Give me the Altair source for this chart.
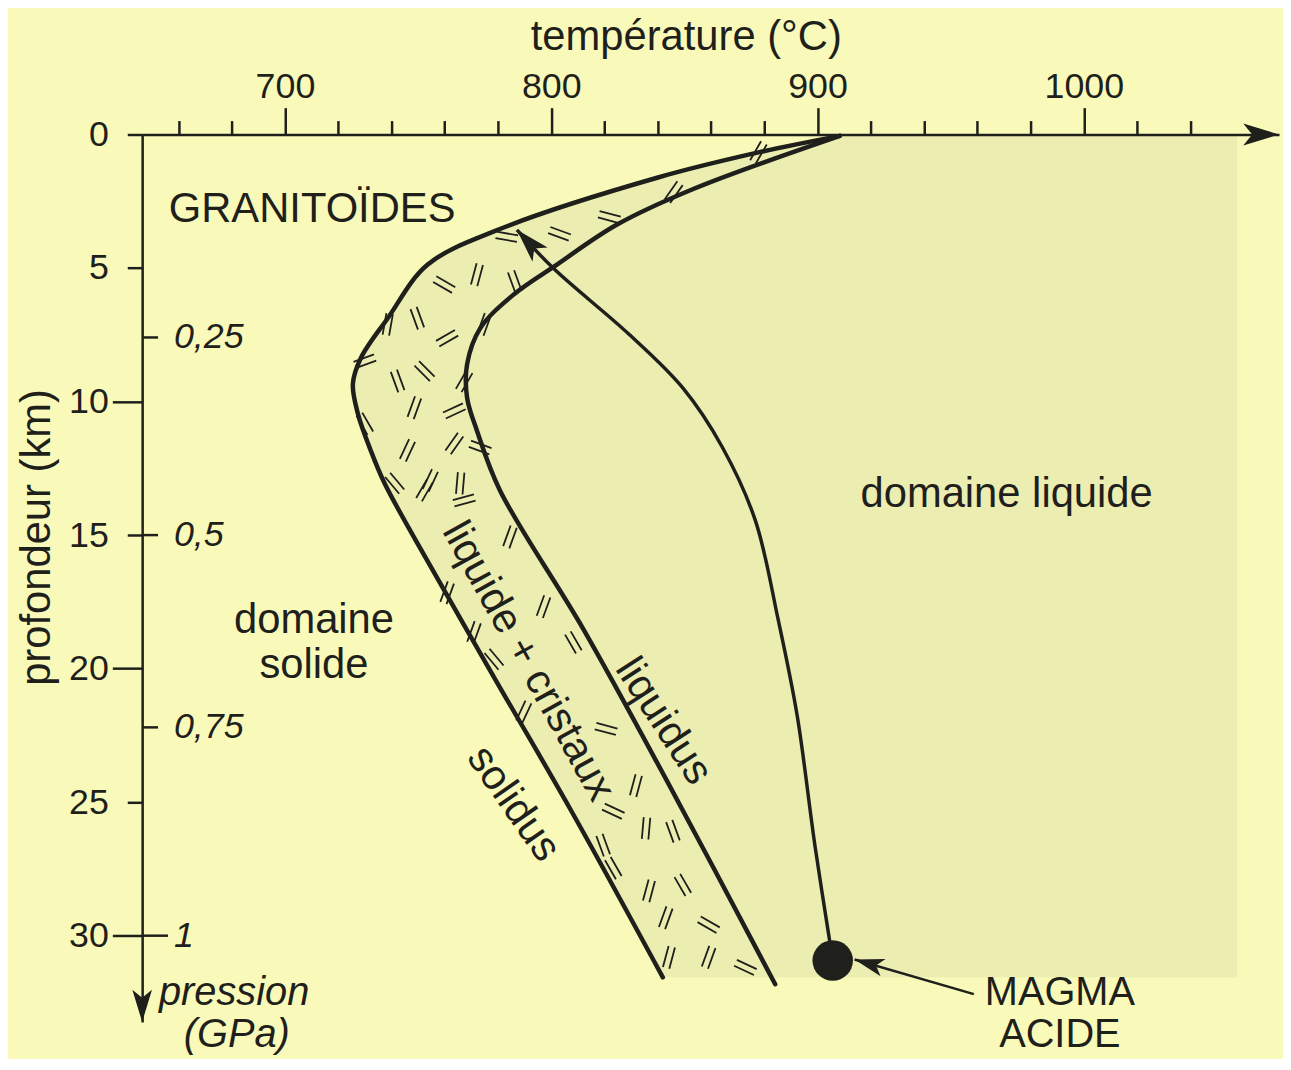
import altair as alt
import pandas as pd

FONT = "Liberation Sans"
INK = "#1f1f1c"
BG = "#f9fab9"
SHADE = "#ecedb1"

# ---- axis extents (temperature in °C, depth in km) ----
T_MIN, T_MAX = 646.37, 1073.3
D_MAX = 33.23
SHADE_RIGHT = 1057.6

x_ticks = [660, 680, 700, 720, 740, 760, 780, 800, 820, 840, 860, 880,
           900, 920, 940, 960, 980, 1000, 1020, 1040]
y_ticks = [0, 5, 10, 15, 20, 25, 30]

p_labels = ["0,25", "0,5", "0,75", "1"]
p_depth = [7.6, 15.0, 22.2, 30.0]

# ---- curves ----
solidus_T = [908.4, 877.8, 840.4, 780.7, 753.5, 738.6, 728.5, 725.5, 727.4,
             732.2, 737.4, 749.7, 778.9, 807.6, 841.9]
solidus_d = [0.05, 0.67, 1.60, 3.54, 4.88, 6.88, 8.37, 9.34, 10.46,
             11.83, 13.06, 15.30, 20.39, 25.34, 31.56]

liquidus_T = [908.4, 853.1, 824.4, 802.0, 785.9, 773.3, 768.4, 768.4, 772.1,
              780.7, 812.1, 843.0, 884.1]
liquidus_d = [0.05, 2.05, 3.39, 4.88, 5.99, 7.26, 8.60, 9.86, 11.09,
              13.32, 18.53, 24.12, 31.82]

magma_T = [905.7, 899.0, 892.3, 885.2, 876.6, 864.3, 849.4, 829.2, 800.9, 787.1]
magma_d = [30.93, 26.61, 21.73, 18.16, 14.44, 11.72, 9.49, 7.48, 5.02, 3.57]

dot_T, dot_d = [905.7], [30.93]
pointer_T = [958.7, 913.9]
pointer_d = [32.19, 30.89]

# ---- crystal hatch marks in the liquid + crystals band ----
hatch_T = [877.8, 846.0, 821.8, 803.1, 783.3, 759.8, 772.1, 786.3, 738.6, 749.7,
           760.9, 774.8, 730.0, 742.3, 752.4, 767.3, 748.6, 763.6, 730.0, 746.0,
           763.6, 773.3, 741.2, 754.6, 765.8, 752.4, 767.3, 784.5, 760.9, 771.0,
           778.5, 797.1, 808.3, 789.7, 820.6, 831.8, 823.3, 835.6, 845.7, 819.5,
           823.3, 836.7, 849.4, 843.0, 859.1, 844.2, 859.1, 872.9]
hatch_d = [0.67, 2.16, 3.09, 3.72, 3.83, 5.62, 5.25, 5.51, 7.11, 6.88,
           7.63, 7.11, 8.49, 9.23, 8.86, 9.23, 10.23, 10.35, 10.83, 11.83,
           11.57, 11.72, 13.06, 12.95, 13.06, 13.32, 13.70, 15.07, 17.16, 18.65,
           19.65, 17.68, 19.02, 21.62, 22.26, 24.38, 25.34, 25.98, 26.09, 26.61,
           27.47, 28.32, 28.10, 29.33, 29.59, 30.81, 30.81, 31.19]
hatch_a = [30, 35, 105, 110, 100, 120, 15, 340, 10, 340,
           60, 20, 70, 340, 315, 30, 20, 65, 330, 25,
           35, 110, 320, 25, 5, 30, 75, 20, 20, 20,
           320, 20, 330, 25, 105, 15, 115, 5, 340, 340,
           330, 15, 330, 20, 120, 15, 20, 115]

# ---- annotations ----
ann_text = ["GRANITOÏDES", "domaine liquide", "domaine", "solide"]
ann_T = [710.2, 971.0, 710.9, 710.9]
ann_d = [2.79, 13.45, 18.18, 19.85]

low_text = ["MAGMA", "ACIDE"]
low_T = [991.0, 991.0]
low_d = [32.15, 33.72]

rot_text = ["liquide + cristaux", "liquidus", "solidus"]
rot_T = [791.5, 842.3, 785.9]
rot_d = [19.72, 21.96, 25.05]
rot_a = [61, 57, 55]

pres_text = ["pression", "(GPa)"]
pres_T = [652.7, 662.0]
pres_d = [32.15, 33.72]

HATCH = "M-0.3,-1L-0.3,1M0.3,-1L0.3,1"
ARROW = "M0,0L0.55,1.8L0,1.35L-0.55,1.8Z"

W, H = 1144, 893
xs = alt.Scale(domain=[T_MIN, T_MAX], nice=False, zero=False)
ys = alt.Scale(domain=[0, D_MAX], nice=False, zero=False, reverse=True)

xaxis = alt.Axis(
    orient="top", values=x_ticks, format="d",
    labelExpr="datum.value % 100 === 0 ? datum.label : ''",
    tickSize={"condition": {"test": "datum.value % 100 === 0", "value": 27}, "value": 14},
    labelPadding=10, labelBaseline="alphabetic", labelFlush=False, labelOverlap=False,
    labelFont=FONT, labelFontSize=36, labelColor=INK,
    tickColor=INK, tickWidth=2.5, domainColor=INK, domainWidth=2.5, grid=False,
    title="température (°C)", titleFont=FONT, titleFontSize=42, titleFontWeight="normal",
    titleColor=INK, titleX=547, titleY=-86, titleBaseline="alphabetic", titleAlign="center",
    titleAngle=0, zindex=2,
)

yaxis = alt.Axis(
    orient="left", values=y_ticks, format="d",
    tickSize={"condition": {"test": "datum.value % 10 === 0 && datum.value > 0", "value": 30}, "value": 15},
    labelPadding={"condition": {"test": "datum.value % 10 === 0 && datum.value > 0", "value": 4}, "value": 19},
    labelFlush=False, labelOverlap=False,
    labelFont=FONT, labelFontSize=36, labelColor=INK,
    tickColor=INK, tickWidth=2.5, domainColor=INK, domainWidth=2.5, grid=False,
    title="profondeur (km)", titleFont=FONT, titleFontSize=42, titleFontWeight="normal",
    titleColor=INK, titleX=-93, titleY=405, titleAngle=270, titleBaseline="alphabetic",
    titleAlign="center", zindex=2,
)


def X(f="T"):
    return alt.X(f"{f}:Q", scale=xs, axis=xaxis)


def Y(f="d"):
    return alt.Y(f"{f}:Q", scale=ys, axis=yaxis)


shade_df = pd.DataFrame({"T": solidus_T, "d": solidus_d, "T2": [SHADE_RIGHT] * len(solidus_T)})
shade = alt.Chart(shade_df).mark_area(
    orient="horizontal", interpolate="catmull-rom", color=SHADE, opacity=1
).encode(x=X(), x2="T2:Q", y=Y())

hatch = alt.Chart(pd.DataFrame({"T": hatch_T, "d": hatch_d, "a": hatch_a})).mark_point(
    shape=HATCH, filled=False, stroke=INK, strokeWidth=1.8, size=484, opacity=1
).encode(x=X(), y=Y(), angle=alt.Angle("a:Q", scale=None))


def curve(Ts, ds, width, cap="round"):
    df = pd.DataFrame({"T": Ts, "d": ds, "i": list(range(len(Ts)))})
    return alt.Chart(df).mark_line(
        interpolate="catmull-rom", color=INK, strokeWidth=width,
        strokeCap=cap, strokeJoin="round"
    ).encode(x=X(), y=Y(), order="i:Q")


solidus = curve(solidus_T, solidus_d, 4.5)
liquidus = curve(liquidus_T, liquidus_d, 4.5)
magma = curve(magma_T, magma_d, 3.5, cap="butt")
pointer = curve(pointer_T, pointer_d, 2.5, cap="butt")


def arrowhead(T, d, angle, size):
    return alt.Chart(pd.DataFrame({"T": [T], "d": [d]})).mark_point(
        shape=ARROW, filled=True, fill=INK, strokeWidth=0, size=size, angle=angle, opacity=1
    ).encode(x=X(), y=Y())


head_magma = arrowhead(magma_T[-1], magma_d[-1], 317, 1444)
head_pointer = arrowhead(pointer_T[-1], pointer_d[-1], 286, 1100)
head_x = arrowhead(T_MAX, 0, 90, 1600)
head_y = arrowhead(T_MIN, D_MAX, 180, 1296)

dot = alt.Chart(pd.DataFrame({"T": dot_T, "d": dot_d})).mark_circle(
    size=1660, color=INK, opacity=1
).encode(x=X(), y=Y())

ann = alt.Chart(pd.DataFrame({"t": ann_text, "T": ann_T, "d": ann_d})).mark_text(
    font=FONT, fontSize=42, color=INK, align="center", baseline="middle"
).encode(x=X(), y=Y(), text="t:N")

low = alt.Chart(pd.DataFrame({"t": low_text, "T": low_T, "d": low_d})).mark_text(
    font=FONT, fontSize=40, color=INK, align="center", baseline="middle"
).encode(x=X(), y=Y(), text="t:N")

rot = alt.Chart(pd.DataFrame({"t": rot_text, "T": rot_T, "d": rot_d, "a": rot_a})).mark_text(
    font=FONT, fontSize=42, color=INK, align="center", baseline="middle"
).encode(x=X(), y=Y(), text="t:N", angle=alt.Angle("a:Q", scale=None))

pres = alt.Chart(pd.DataFrame({"t": pres_text, "T": pres_T, "d": pres_d})).mark_text(
    font=FONT, fontSize=40, fontStyle="italic", color=INK, align="left", baseline="middle"
).encode(x=X(), y=Y(), text="t:N")

p_df = pd.DataFrame({"p": p_labels, "d": p_depth})
p_ticks = alt.Chart(p_df).transform_filter("datum.p !== '1'").mark_rule(
    color=INK, strokeWidth=2.5
).encode(x=alt.value(0), x2=alt.value(16), y=Y())
p_tick_last = alt.Chart(p_df).transform_filter("datum.p === '1'").mark_rule(
    color=INK, strokeWidth=2.5
).encode(x=alt.value(0), x2=alt.value(26), y=Y())
p_text = alt.Chart(p_df).mark_text(
    font=FONT, fontSize=36, fontStyle="italic", color=INK, align="left", baseline="middle"
).encode(x=alt.value(32), y=Y(), text="p:N")

chart = alt.layer(
    shade, hatch, solidus, liquidus, magma, pointer,
    head_magma, head_pointer, head_x, head_y, dot,
    ann, low, rot, pres, p_ticks, p_tick_last, p_text,
).properties(
    width=W, height=H,
    padding={"left": 135, "top": 124, "right": 4, "bottom": 34},
    autosize=alt.AutoSizeParams(type="none"),
).configure(
    background=BG, font=FONT
).configure_view(stroke=None)

chart.save("out.html", embed_options={"renderer": "svg", "actions": False})
